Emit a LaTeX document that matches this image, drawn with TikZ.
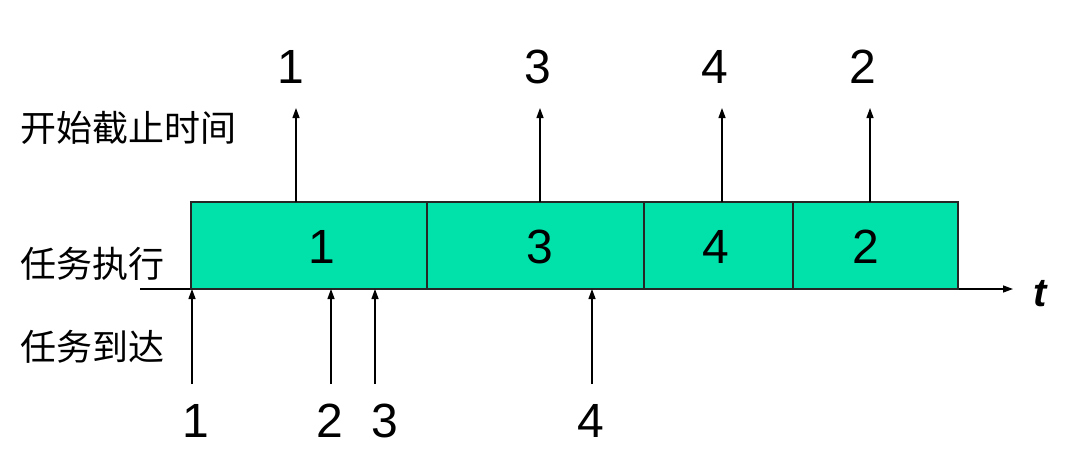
\documentclass[tikz,border=0pt]{standalone}
\usepackage{fontspec}
\setmainfont{Liberation Sans}
\newfontfamily\cjk{Noto Sans CJK SC}
\usetikzlibrary{arrows.meta}
\definecolor{taskgreen}{RGB}{0,226,170}
\begin{document}
\begin{tikzpicture}[x=1pt,y=-1pt,
  task/.style={draw=black!85,line width=1.6pt,fill=taskgreen,inner sep=0pt,outer sep=0pt,
    minimum height=87pt,anchor=north west},
  num/.style={inner sep=0pt,font=\fontsize{48}{52}\selectfont},
  cn/.style={inner sep=0pt,anchor=west,font=\cjk\fontsize{36}{40}\selectfont},
  arr/.style={line width=1.3pt,-{Triangle[length=10pt,width=7pt]}}]
\useasboundingbox (0,0) rectangle (1083,472);
% axis
\coordinate (ax0) at (140,289);
\coordinate (ax1) at (1013,289);
\draw[arr] (ax0) -- (ax1);
\node[inner sep=0pt,font=\fontsize{40}{44}\selectfont\bfseries\itshape] (t) at (1040,294) {t};
% task boxes
\node[task,minimum width=236pt] (b1) at (191,202) {};
\node[task,minimum width=217pt] (b3) at (427,202) {};
\node[task,minimum width=149pt] (b4) at (644,202) {};
\node[task,minimum width=165pt] (b2) at (793,202) {};
\node[num] (n1) at (322,247) {1};
\node[num] (n3) at (540,247) {3};
\node[num] (n4) at (716,247) {4};
\node[num] (n2) at (866,247) {2};
% row labels
\node[cn] (l1) at (20,128) {开始截止时间};
\node[cn] (l2) at (20,264) {任务执行};
\node[cn] (l3) at (20,347) {任务到达};
% deadlines
\node[num] (d1) at (291,67) {1};
\node[num] (d3) at (538,67) {3};
\node[num] (d4) at (715,67) {4};
\node[num] (d2) at (863,67) {2};
\coordinate (d1s) at (296,202); \coordinate (d1e) at (296,108);
\coordinate (d3s) at (540,202); \coordinate (d3e) at (540,108);
\coordinate (d4s) at (722,202); \coordinate (d4e) at (722,108);
\coordinate (d2s) at (870,202); \coordinate (d2e) at (870,108);
\draw[arr] (d1s) -- (d1e);
\draw[arr] (d3s) -- (d3e);
\draw[arr] (d4s) -- (d4e);
\draw[arr] (d2s) -- (d2e);
% arrivals
\node[num] (a1) at (196,421) {1};
\node[num] (a2) at (330,421) {2};
\node[num] (a3) at (385,421) {3};
\node[num] (a4) at (591,421) {4};
\coordinate (a1s) at (192,384); \coordinate (a1e) at (192,289);
\coordinate (a2s) at (331,384); \coordinate (a2e) at (331,289);
\coordinate (a3s) at (375,384); \coordinate (a3e) at (375,289);
\coordinate (a4s) at (592,384); \coordinate (a4e) at (592,289);
\draw[arr] (a1s) -- (a1e);
\draw[arr] (a2s) -- (a2e);
\draw[arr] (a3s) -- (a3e);
\draw[arr] (a4s) -- (a4e);
\end{tikzpicture}
\end{document}
